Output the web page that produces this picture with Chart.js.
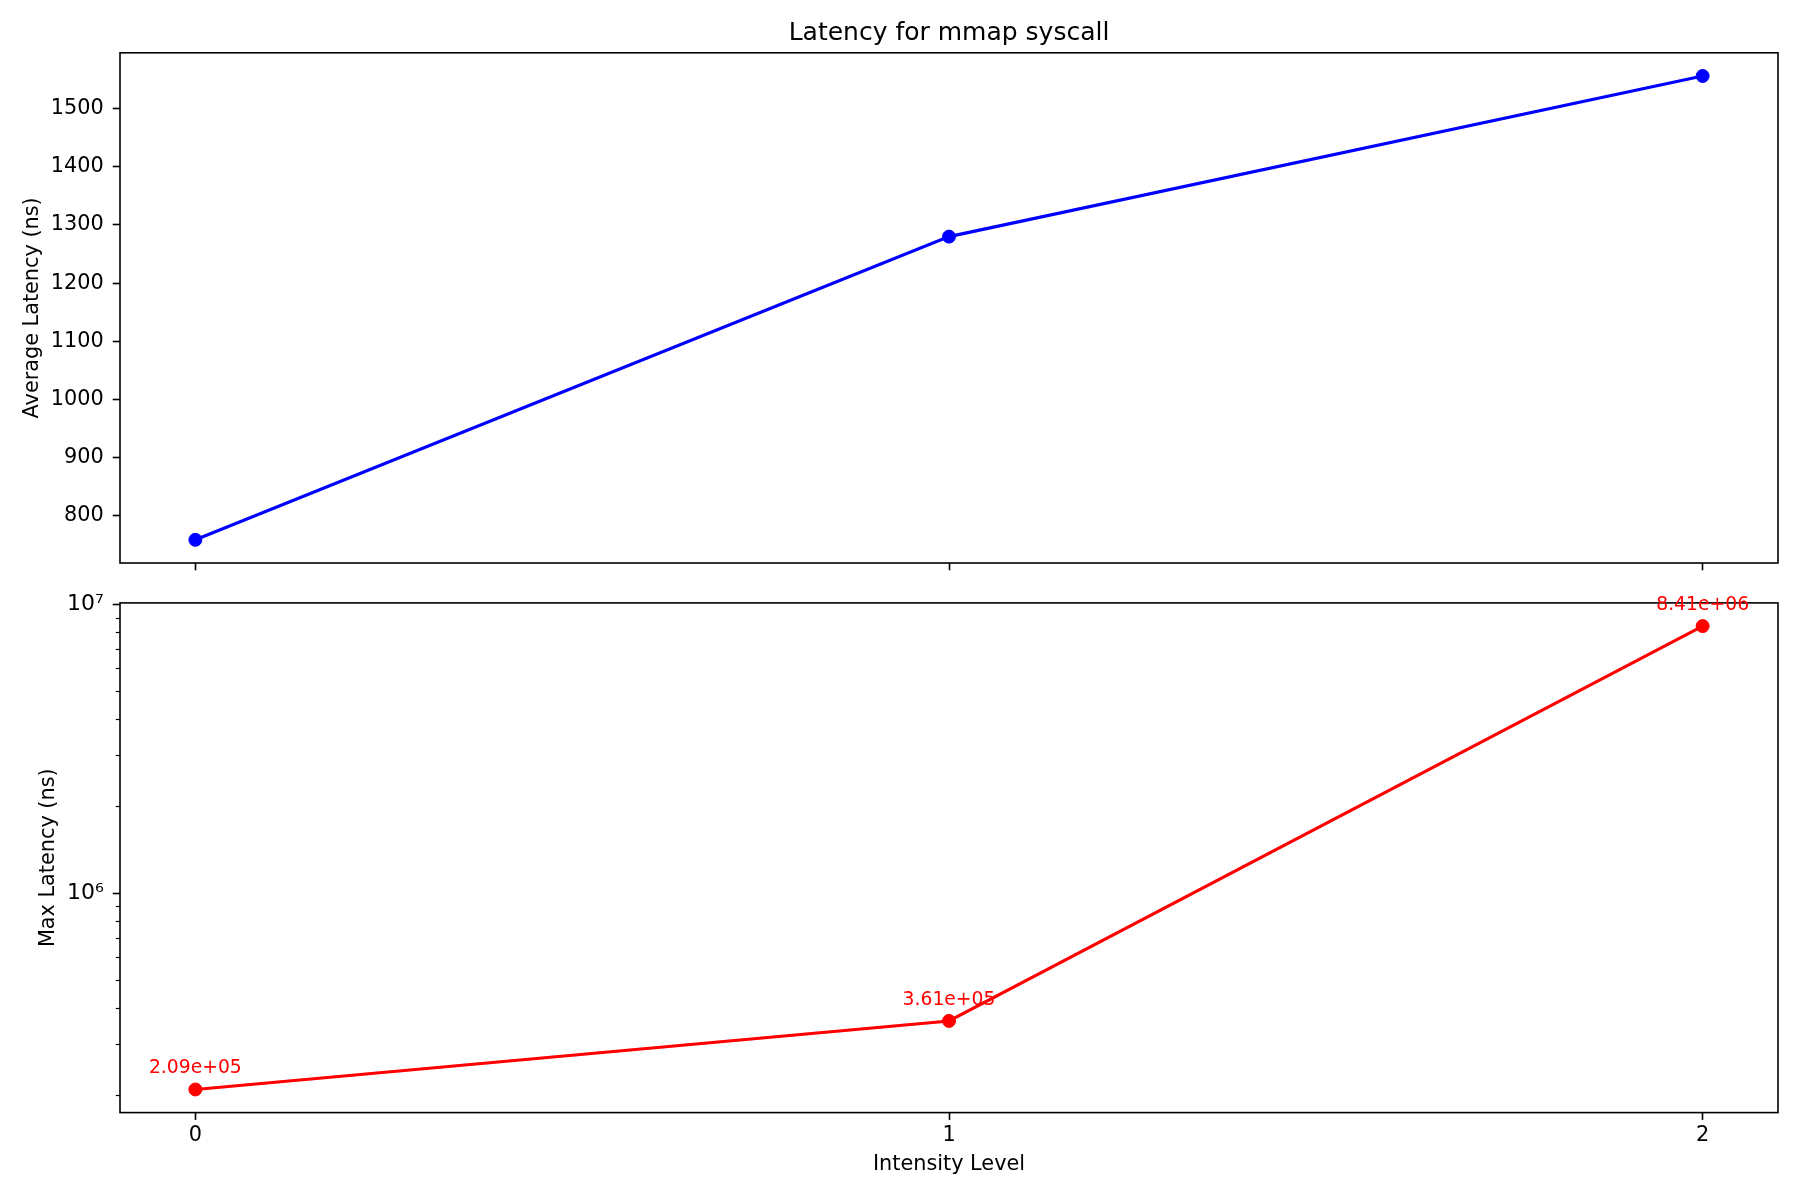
<!DOCTYPE html>
<html lang="en">
<head>
<meta charset="UTF-8">
<title>Latency for mmap syscall</title>
<script src="https://cdn.jsdelivr.net/npm/chart.js"></script>
<style>
  body { margin: 0; background: #fff; }
  #wrap { position: relative; width: 1800px; height: 1200px; }
  canvas { position: absolute; left: 0; }
  #chartAvg { top: 0; }
  #chartMax { top: 580px; }
</style>
</head>
<body>
<div id="wrap">
  <canvas id="chartAvg" width="1800" height="600"></canvas>
  <canvas id="chartMax" width="1800" height="620"></canvas>
</div>
<script>
  // values
  var levels = [0, 1, 2];
  var avgLatency = [759, 1280, 1556];
  var maxLatency = [209000, 361000, 8410000];

  var levelTicks = [0, 1, 2];
  var avgTicks = [800, 900, 1000, 1100, 1200, 1300, 1400, 1500];
  var maxTicks = [1e6, 1e7];
  var maxTickLabels = ['10\u2076', '10\u2077'];
  var maxMinorTicks = [2e5, 3e5, 4e5, 5e5, 6e5, 7e5, 8e5, 9e5, 2e6, 3e6, 4e6, 5e6, 6e6, 7e6, 8e6, 9e6];

  Chart.defaults.font.family = "'DejaVu Sans', sans-serif";
  Chart.defaults.font.size = 20.8;
  Chart.defaults.color = '#000';

  function toPoints(ys) {
    return levels.map(function (x, i) { return { x: x, y: ys[i] }; });
  }

  // matplotlib style number, e.g. 2.09e+05
  function formatSci(v) {
    var parts = v.toExponential(2).split('e');
    var exp = parseInt(parts[1], 10);
    var abs = Math.abs(exp);
    return parts[0] + 'e' + (exp < 0 ? '-' : '+') + (abs < 10 ? '0' + abs : abs);
  }

  function setTicks(list) {
    return function (scale) {
      scale.ticks = list.map(function (v) { return { value: v }; });
    };
  }

  var tickGrid = {
    drawOnChartArea: false,
    drawTicks: true,
    tickLength: 7.3,
    tickWidth: 1.6,
    tickColor: '#000'
  };

  // box around the plot area
  var framePlugin = {
    id: 'frame',
    afterDraw: function (chart) {
      var a = chart.chartArea;
      var ctx = chart.ctx;
      ctx.save();
      ctx.strokeStyle = '#000';
      ctx.lineWidth = 1.6;
      ctx.strokeRect(a.left, a.top, a.right - a.left, a.bottom - a.top);
      ctx.restore();
    }
  };

  // short ticks of the log axis + value labels over the points
  var maxExtras = {
    id: 'maxExtras',
    afterDraw: function (chart) {
      var ctx = chart.ctx;
      var a = chart.chartArea;
      var y = chart.scales.y;
      var x = chart.scales.x;
      ctx.save();
      ctx.strokeStyle = '#000';
      ctx.lineWidth = 1.2;
      maxMinorTicks.forEach(function (v) {
        var py = Math.round(y.getPixelForValue(v)) + 0.5;
        if (py < a.top || py > a.bottom) return;
        ctx.beginPath();
        ctx.moveTo(a.left - 4.2, py);
        ctx.lineTo(a.left, py);
        ctx.stroke();
      });
      ctx.fillStyle = '#ff0000';
      ctx.font = "18.75px 'DejaVu Sans', sans-serif";
      ctx.textAlign = 'center';
      ctx.textBaseline = 'alphabetic';
      levels.forEach(function (lv, i) {
        var px = x.getPixelForValue(lv);
        var py = y.getPixelForValue(maxLatency[i]);
        ctx.fillText(formatSci(maxLatency[i]), px, py - 16);
      });
      ctx.restore();
    }
  };

  new Chart(document.getElementById('chartAvg'), {
    type: 'line',
    data: {
      datasets: [{
        data: toPoints(avgLatency),
        borderColor: '#0000ff',
        backgroundColor: '#0000ff',
        borderWidth: 3.1,
        pointRadius: 6.5,
        pointBorderWidth: 1,
        pointBackgroundColor: '#0000ff',
        tension: 0
      }]
    },
    options: {
      responsive: false,
      animation: false,
      devicePixelRatio: 1,
      events: [],
      layout: { padding: { left: 0, right: 22, top: 0, bottom: 0 } },
      plugins: {
        legend: { display: false },
        tooltip: { enabled: false },
        title: {
          display: true,
          fullSize: false,
          text: 'Latency for mmap syscall',
          font: { size: 25, weight: 'normal' },
          color: '#000',
          padding: { top: 18, bottom: 4.8 }
        }
      },
      scales: {
        x: {
          type: 'linear',
          min: -0.1,
          max: 2.1,
          afterBuildTicks: setTicks(levelTicks),
          afterFit: function (s) { s.height = 37; },
          ticks: { display: false },
          grid: tickGrid,
          border: { display: false }
        },
        y: {
          type: 'linear',
          min: 719.15,
          max: 1595.85,
          afterBuildTicks: setTicks(avgTicks),
          afterFit: function (s) { s.width = 120; },
          ticks: { padding: 9, callback: function (v) { return String(v); } },
          grid: tickGrid,
          border: { display: false },
          title: {
            display: true,
            text: 'Average Latency (ns)',
            padding: { top: 20, bottom: 0 }
          }
        }
      }
    },
    plugins: [framePlugin]
  });

  new Chart(document.getElementById('chartMax'), {
    type: 'line',
    data: {
      datasets: [{
        data: toPoints(maxLatency),
        borderColor: '#ff0000',
        backgroundColor: '#ff0000',
        borderWidth: 3.1,
        pointRadius: 6.5,
        pointBorderWidth: 1,
        pointBackgroundColor: '#ff0000',
        tension: 0
      }]
    },
    options: {
      responsive: false,
      animation: false,
      devicePixelRatio: 1,
      events: [],
      layout: { padding: { left: 0, right: 22, top: 22.9, bottom: 0 } },
      plugins: {
        legend: { display: false },
        tooltip: { enabled: false }
      },
      scales: {
        x: {
          type: 'linear',
          min: -0.1,
          max: 2.1,
          afterBuildTicks: setTicks(levelTicks),
          afterFit: function (s) { s.height = 87.4; },
          ticks: { padding: 3, callback: function (v) { return String(v); } },
          grid: tickGrid,
          border: { display: false },
          title: {
            display: true,
            text: 'Intensity Level',
            padding: { top: 0, bottom: 22.5 }
          }
        },
        y: {
          type: 'logarithmic',
          min: 173800,
          max: 10116000,
          afterBuildTicks: setTicks(maxTicks),
          afterFit: function (s) { s.width = 120; },
          ticks: {
            padding: 9,
            font: { size: 22 },
            callback: function (v) {
              var i = maxTicks.indexOf(v);
              return i >= 0 ? maxTickLabels[i] : '';
            }
          },
          grid: tickGrid,
          border: { display: false },
          title: {
            display: true,
            text: 'Max Latency (ns)',
            padding: { top: 36, bottom: 0 }
          }
        }
      }
    },
    plugins: [framePlugin, maxExtras]
  });
</script>
</body>
</html>
